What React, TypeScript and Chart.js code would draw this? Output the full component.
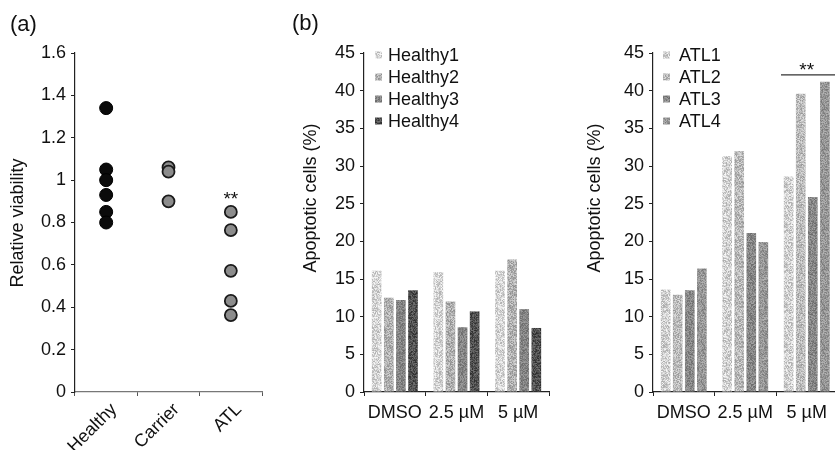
import React, { useEffect, useRef } from 'react';
import { Chart, registerables } from 'chart.js';

Chart.register(...registerables);

const FONT = '"Liberation Sans", Arial, Helvetica, sans-serif';
const FS = 18;
Chart.defaults.font.family = FONT;
Chart.defaults.font.size = FS;
Chart.defaults.color = '#111';

// ---------- data ----------
const viabilityGroups = ['Healthy', 'Carrier', 'ATL'];
const healthyViability = [1.34, 1.05, 1.0, 0.93, 0.85, 0.8];
const carrierViability = [1.06, 1.04, 0.9];
const atlViability = [0.85, 0.764, 0.572, 0.43, 0.363];
const viabilityMax = 1.6;
const viabilityStep = 0.2;

const doseLabels = ['DMSO', '2.5 \u00b5M', '5 \u00b5M'];
const healthyNames = ['Healthy1', 'Healthy2', 'Healthy3', 'Healthy4'];
const healthy1 = [16.1, 15.9, 16.1];
const healthy2 = [12.5, 12.0, 17.6];
const healthy3 = [12.2, 8.6, 11.0];
const healthy4 = [13.5, 10.7, 8.5];
const atlNames = ['ATL1', 'ATL2', 'ATL3', 'ATL4'];
const atl1 = [13.6, 31.3, 28.6];
const atl2 = [12.9, 32.0, 39.6];
const atl3 = [13.5, 21.1, 25.9];
const atl4 = [16.4, 19.9, 41.2];
const apoptosisMax = 45;
const apoptosisStep = 5;

// ---------- helpers ----------
function hash(x: number, y: number, s: number) {
  let h = Math.imul(x, 374761393) + Math.imul(y, 668265263) + Math.imul(s, 1442695041);
  h = Math.imul(h ^ (h >>> 13), 1274126177);
  h = h ^ (h >>> 16);
  return (h >>> 0) / 4294967296;
}

function stipple(ctx: CanvasRenderingContext2D, lo: number, hi: number, seed: number) {
  const size = 40;
  const c = document.createElement('canvas');
  c.width = size;
  c.height = size;
  const g = c.getContext('2d')!;
  const img = g.createImageData(size, size);
  for (let y = 0; y < size; y++) {
    for (let x = 0; x < size; x++) {
      const v = Math.round(lo + hash(x, y, seed) * (hi - lo));
      const i = (y * size + x) * 4;
      img.data[i] = v;
      img.data[i + 1] = v;
      img.data[i + 2] = v;
      img.data[i + 3] = 255;
    }
  }
  g.putImageData(img, 0, 0);
  return ctx.createPattern(c, 'repeat') as CanvasPattern;
}

const sideLegend = {
  id: 'sideLegend',
  afterDraw(chart: any, _a: any, opts: any) {
    if (!opts || !opts.show) return;
    const { ctx, chartArea } = chart;
    ctx.save();
    ctx.font = `${FS}px ${FONT}`;
    ctx.textBaseline = 'middle';
    ctx.textAlign = 'left';
    chart.data.datasets.forEach((ds: any, i: number) => {
      const y = chartArea.top + opts.top + i * opts.step;
      ctx.fillStyle = ds.backgroundColor;
      ctx.fillRect(chartArea.left + opts.boxX, y - opts.box / 2, opts.box, opts.box);
      ctx.fillStyle = '#111';
      ctx.fillText(ds.label, chartArea.left + opts.textX, y + 1);
    });
    ctx.restore();
  },
};

const notes = {
  id: 'notes',
  afterDraw(chart: any, _a: any, opts: any) {
    const { ctx, scales } = chart;
    ctx.save();
    if (opts.title) {
      ctx.save();
      ctx.translate(opts.title.x, opts.title.cy);
      ctx.rotate(-Math.PI / 2);
      ctx.font = `${FS}px ${FONT}`;
      ctx.fillStyle = '#111';
      ctx.textAlign = 'center';
      ctx.textBaseline = 'middle';
      ctx.fillText(opts.title.text, 0, 0);
      ctx.restore();
    }
    const SF = 19;
    if (opts.stars) {
      const x = scales.x.getPixelForValue(opts.stars.index);
      const y = scales.y.getPixelForValue(opts.stars.value);
      ctx.font = `${SF}px ${FONT}`;
      ctx.fillStyle = '#111';
      ctx.textAlign = 'center';
      ctx.textBaseline = 'alphabetic';
      ctx.fillText('**', x, y + 0.575 * SF);
    }
    if (opts.bracket) {
      const xs = scales.x;
      const half = (xs.getPixelForValue(1) - xs.getPixelForValue(0)) / 2;
      const x1 = xs.getPixelForValue(opts.bracket.index) - half + 5;
      const x2 = xs.right + 4;
      const y = scales.y.getPixelForValue(opts.bracket.value);
      ctx.strokeStyle = '#333';
      ctx.lineWidth = 1.2;
      ctx.beginPath();
      ctx.moveTo(x1, y);
      ctx.lineTo(x2, y);
      ctx.stroke();
      const sy = scales.y.getPixelForValue(opts.bracket.starValue);
      ctx.font = `${SF}px ${FONT}`;
      ctx.fillStyle = '#111';
      ctx.textAlign = 'center';
      ctx.textBaseline = 'alphabetic';
      ctx.fillText('**', xs.getPixelForValue(opts.bracket.index), sy + 0.575 * SF);
    }
    ctx.restore();
  },
};

function axisY(max: number, step: number, width: number, fmt?: (v: number) => string) {
  return {
    min: 0,
    max,
    ticks: {
      stepSize: step,
      padding: 5,
      color: '#111',
      font: { size: FS },
      callback: (v: any) => (fmt ? fmt(Number(v)) : String(v)),
    },
    grid: { drawOnChartArea: false, drawTicks: true, tickLength: 4, color: '#222', lineWidth: 1 },
    border: { display: true, color: '#222', width: 1.2 },
    afterFit: (s: any) => {
      s.width = width;
    },
  };
}

// ---------- components ----------
function ViabilityChart() {
  const ref = useRef<HTMLCanvasElement | null>(null);
  useEffect(() => {
    const cv = ref.current!;
    const pt = (group: string, vals: number[]) => vals.map((v) => ({ x: group, y: v }));
    const chart = new Chart(cv, {
      type: 'line',
      data: {
        labels: viabilityGroups,
        datasets: [
          {
            label: 'Healthy',
            data: pt('Healthy', healthyViability) as any,
            showLine: false,
            pointRadius: 6.5,
            pointBackgroundColor: '#0b0b0b',
            pointBorderColor: '#000',
            pointBorderWidth: 1,
          },
          {
            label: 'Carrier',
            data: pt('Carrier', carrierViability) as any,
            showLine: false,
            pointRadius: 6,
            pointBackgroundColor: '#8c8c8c',
            pointBorderColor: '#1a1a1a',
            pointBorderWidth: 1.8,
          },
          {
            label: 'ATL',
            data: pt('ATL', atlViability) as any,
            showLine: false,
            pointRadius: 6,
            pointBackgroundColor: '#8c8c8c',
            pointBorderColor: '#1a1a1a',
            pointBorderWidth: 1.8,
          },
        ],
      },
      options: {
        responsive: false,
        animation: false,
        events: [],
        layout: { padding: { left: 0, top: 53, right: 13, bottom: 0 } },
        plugins: {
          legend: { display: false },
          tooltip: { enabled: false },
          notes: {
            title: { text: 'Relative viability', x: 18, cy: 223 },
            stars: { index: 2, value: 0.935 },
          },
        } as any,
        scales: {
          x: {
            type: 'category',
            offset: true,
            grid: { offset: true, drawOnChartArea: false, tickLength: 4, color: '#555' },
            border: { display: true, color: '#777', width: 1.2 },
            ticks: { minRotation: 45, maxRotation: 45, labelOffset: 8, padding: 3, color: '#111', font: { size: FS } },
            afterFit: (s: any) => {
              s.height = 58;
            },
          } as any,
          y: axisY(viabilityMax, viabilityStep, 75, (v) => String(Number(v.toFixed(1)))) as any,
        },
      },
      plugins: [notes],
    });
    return () => chart.destroy();
  }, []);
  return <canvas ref={ref} width={275} height={450} style={{ position: 'absolute', left: 0, top: 0 }} />;
}

function ApoptosisChart(props: {
  names: string[];
  series: number[][];
  shades: [number, number][];
  left: number;
  yWidth: number;
  rightPad: number;
  titleX: number;
  legendBoxX: number;
  legendTextX: number;
  bracket?: boolean;
}) {
  const ref = useRef<HTMLCanvasElement | null>(null);
  useEffect(() => {
    const cv = ref.current!;
    const ctx = cv.getContext('2d')!;
    const chart = new Chart(cv, {
      type: 'bar',
      data: {
        labels: doseLabels,
        datasets: props.series.map((vals, i) => ({
          label: props.names[i],
          data: vals,
          backgroundColor: stipple(ctx, props.shades[i][0], props.shades[i][1], i * 7 + props.left),
          borderWidth: 0,
          categoryPercentage: 0.785,
          barPercentage: 0.8,
        })),
      },
      options: {
        responsive: false,
        animation: false,
        events: [],
        layout: { padding: { left: 0, top: 53, right: props.rightPad, bottom: 0 } },
        plugins: {
          legend: { display: false },
          tooltip: { enabled: false },
          sideLegend: { show: true, boxX: props.legendBoxX, textX: props.legendTextX, top: 2, step: 22, box: 7 },
          notes: {
            title: { text: 'Apoptotic cells (%)', x: props.titleX, cy: 198 },
            bracket: props.bracket ? { index: 2, value: 42.1, starValue: 43.4 } : undefined,
          },
        } as any,
        scales: {
          x: {
            grid: { offset: true, drawOnChartArea: false, tickLength: 4, color: '#222' },
            border: { display: true, color: '#222', width: 1.2 },
            ticks: { padding: 6, color: '#111', font: { size: FS } },
            afterFit: (s: any) => {
              s.height = 58;
            },
          } as any,
          y: axisY(apoptosisMax, apoptosisStep, props.yWidth) as any,
        },
      },
      plugins: [sideLegend, notes],
    });
    return () => chart.destroy();
  }, []);
  return <canvas ref={ref} width={280} height={450} style={{ position: 'absolute', left: props.left, top: 0 }} />;
}

const panelLabel: React.CSSProperties = {
  position: 'absolute',
  fontFamily: FONT,
  fontSize: 22,
  lineHeight: '22px',
  color: '#111',
  whiteSpace: 'nowrap',
};

export default function App() {
  return (
    <div
      style={{
        position: 'absolute',
        left: 0,
        top: 0,
        width: 835,
        height: 450,
        overflow: 'hidden',
        background: '#fff',
      }}
    >
      <ViabilityChart />
      <ApoptosisChart
        names={healthyNames}
        series={[healthy1, healthy2, healthy3, healthy4]}
        shades={[
          [175, 250],
          [140, 215],
          [105, 160],
          [45, 115],
        ]}
        left={280}
        yWidth={84}
        rightPad={11}
        titleX={31}
        legendBoxX={11}
        legendTextX={24}
      />
      <ApoptosisChart
        names={atlNames}
        series={[atl1, atl2, atl3, atl4]}
        shades={[
          [170, 248],
          [150, 225],
          [105, 165],
          [120, 180],
        ]}
        left={560}
        yWidth={93}
        rightPad={2.5}
        titleX={35}
        legendBoxX={10}
        legendTextX={26}
        bracket
      />
      <div style={{ ...panelLabel, left: 10, top: 13 }}>(a)</div>
      <div style={{ ...panelLabel, left: 292, top: 12 }}>(b)</div>
    </div>
  );
}
